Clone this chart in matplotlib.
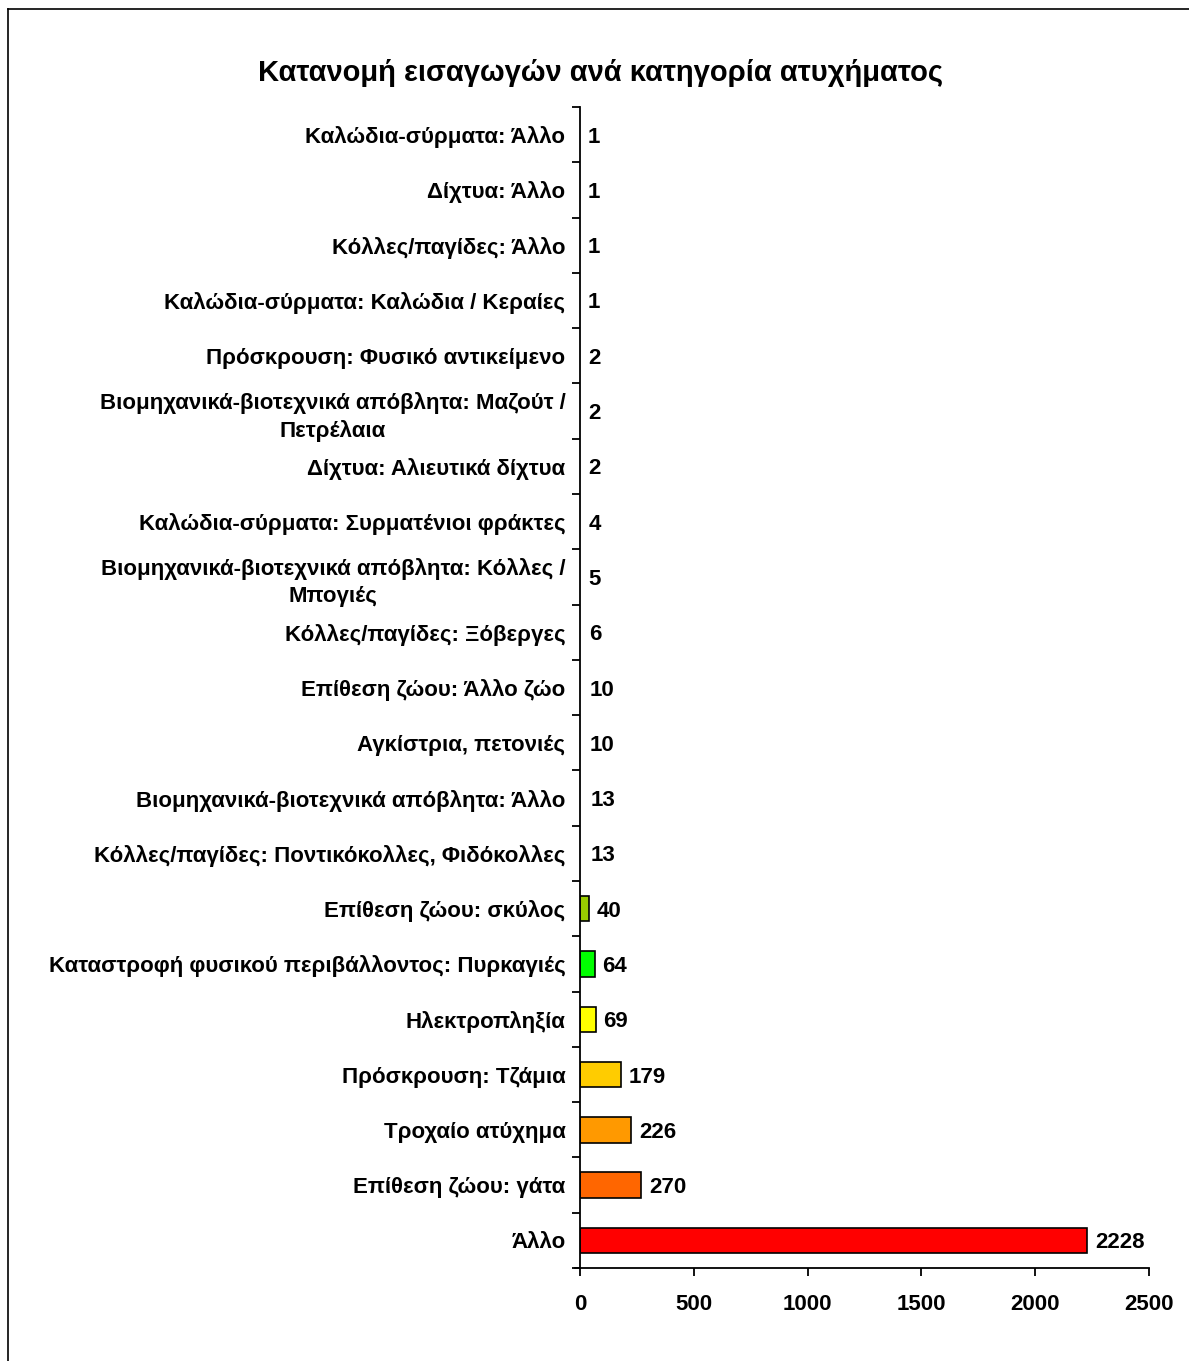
import matplotlib.pyplot as plt
from matplotlib.lines import Line2D

plt.rcParams['font.family'] = ['Liberation Sans', 'DejaVu Sans']

categories = [
    'Άλλο',
    'Επίθεση ζώου: γάτα',
    'Τροχαίο ατύχημα',
    'Πρόσκρουση: Τζάμια',
    'Ηλεκτροπληξία',
    'Καταστροφή φυσικού περιβάλλοντος: Πυρκαγιές',
    'Επίθεση ζώου: σκύλος',
    'Κόλλες/παγίδες: Ποντικόκολλες, Φιδόκολλες',
    'Βιομηχανικά-βιοτεχνικά απόβλητα: Άλλο',
    'Αγκίστρια, πετονιές',
    'Επίθεση ζώου: Άλλο ζώο',
    'Κόλλες/παγίδες: Ξόβεργες',
    'Βιομηχανικά-βιοτεχνικά απόβλητα: Κόλλες /\nΜπογιές',
    'Καλώδια-σύρματα: Συρματένιοι φράκτες',
    'Δίχτυα: Αλιευτικά δίχτυα',
    'Βιομηχανικά-βιοτεχνικά απόβλητα: Μαζούτ /\nΠετρέλαια',
    'Πρόσκρουση: Φυσικό αντικείμενο',
    'Καλώδια-σύρματα: Καλώδια / Κεραίες',
    'Κόλλες/παγίδες: Άλλο',
    'Δίχτυα: Άλλο',
    'Καλώδια-σύρματα: Άλλο',
]
values = [2228, 270, 226, 179, 69, 64, 40, 13, 13, 10, 10, 6, 5, 4, 2, 2, 2, 1, 1, 1, 1]
colors = ['#FF0000', '#FF6600', '#FF9900', '#FFCC00', '#FFFF00', '#00FF00', '#99CC00']
title = 'Κατανομή εισαγωγών ανά κατηγορία ατυχήματος'
xticks = [0, 500, 1000, 1500, 2000, 2500]

fig = plt.figure(figsize=(11.89, 13.61), dpi=100)
ax = fig.add_axes([0.4878, 0.0683, 0.9664 - 0.4878, 0.9214 - 0.0683])

ypos = list(range(len(categories)))
n_col = len(colors)
# the tiny bars are not visible in the original
facecolors = colors + ['none'] * (len(values) - n_col)
edgecolors = ['black'] * n_col + ['none'] * (len(values) - n_col)
ax.barh(ypos, values, height=0.46, color=facecolors, edgecolor=edgecolors, linewidth=1.2)
for y, v in zip(ypos, values):
    ax.annotate(str(v), (v, y), xytext=(5.5, 0), textcoords='offset points',
                va='center_baseline', ha='left', fontsize=16, fontweight='bold')

ax.set_ylim(-0.5, len(categories) - 0.5)
ax.set_xlim(0, 2500)
ax.set_xticks(xticks)
ax.set_xticklabels([str(t) for t in xticks], fontsize=16, fontweight='bold')
ax.set_yticks(ypos)
ax.set_yticklabels(categories, fontsize=16, fontweight='bold', multialignment='center',
                   linespacing=1.35)
ax.set_yticks([i - 0.5 for i in range(len(categories) + 1)], minor=True)
ax.tick_params(axis='y', which='major', length=0, pad=10.5)
ax.tick_params(axis='y', which='minor', length=6, width=1.3, direction='out')
ax.tick_params(axis='x', which='major', length=6, width=1.3, direction='out', pad=13)

for s in ['top', 'right']:
    ax.spines[s].set_visible(False)
ax.spines['left'].set_linewidth(1.3)
ax.spines['bottom'].set_linewidth(1.3)
ax.spines['bottom'].set_bounds(-20, 2500)
ax.set_facecolor('none')

fig.text(0.505, 0.946, title, ha='center', va='center', fontsize=21, fontweight='bold')

# outer frame (cut off at right and bottom)
fig.add_artist(Line2D([7.5 / 1189, 7.5 / 1189], [0, 1 - 8.5 / 1361], color='black', linewidth=1.2))
fig.add_artist(Line2D([7.5 / 1189, 1], [1 - 8.5 / 1361, 1 - 8.5 / 1361], color='black', linewidth=1.2))

fig.savefig('out.png', dpi=100)
